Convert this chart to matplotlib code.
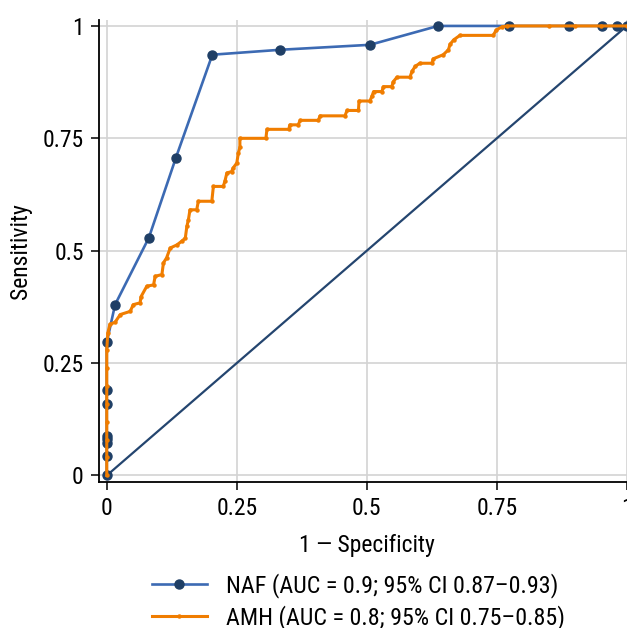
import matplotlib

matplotlib.use("Agg")
import matplotlib.pyplot as plt

plt.rcParams["font.family"] = ["Roboto Condensed", "DejaVu Sans"]

# ROC points
naf_fpr = [0, 0, 0, 0, 0, 0, 0, 0, 0.016, 0.081, 0.133, 0.203, 0.334, 0.506,
           0.637, 0.774, 0.889, 0.953, 0.982, 1.0]
naf_tpr = [0, 0.043, 0.073, 0.081, 0.088, 0.160, 0.190, 0.296, 0.38, 0.529,
           0.707, 0.936, 0.947, 0.958, 1.0, 1.0, 1.0, 1.0, 1.0, 1.0]

amh_fpr = [0, 0, 0, 0, 0, 0, 0, 0, 0.002, 0.006, 0.016, 0.026, 0.045, 0.051,
           0.064, 0.066, 0.077, 0.09, 0.093, 0.106, 0.109, 0.115, 0.122, 0.135,
           0.144, 0.151, 0.154, 0.157, 0.16, 0.173, 0.176, 0.202, 0.205, 0.224,
           0.227, 0.231, 0.24, 0.243, 0.25, 0.253, 0.256, 0.256, 0.306, 0.308,
           0.35, 0.352, 0.368, 0.372, 0.407, 0.41, 0.458, 0.462, 0.484, 0.485,
           0.506, 0.51, 0.513, 0.529, 0.532, 0.548, 0.551, 0.558, 0.583, 0.587,
           0.593, 0.602, 0.625, 0.628, 0.647, 0.657, 0.66, 0.667, 0.679, 0.743,
           0.749, 0.76, 0.77, 0.85, 0.9, 0.95, 1.0]
amh_tpr = [0, 0.04, 0.08, 0.12, 0.16, 0.2, 0.24, 0.28, 0.317, 0.336, 0.341,
           0.358, 0.365, 0.38, 0.384, 0.398, 0.421, 0.424, 0.443, 0.447, 0.473,
           0.484, 0.506, 0.513, 0.521, 0.528, 0.554, 0.569, 0.591, 0.591, 0.61,
           0.61, 0.643, 0.643, 0.654, 0.673, 0.676, 0.684, 0.695, 0.717, 0.73,
           0.75, 0.75, 0.77, 0.77, 0.78, 0.78, 0.79, 0.79, 0.80, 0.80, 0.812,
           0.812, 0.833, 0.833, 0.844, 0.854, 0.854, 0.865, 0.865, 0.876, 0.886,
           0.886, 0.899, 0.91, 0.917, 0.917, 0.927, 0.936, 0.947, 0.959, 0.969,
           0.979, 0.979, 0.991, 0.998, 1.0, 1.0, 1.0, 1.0, 1.0]

ticks = [0, 0.25, 0.5, 0.75, 1]
tick_labels = ["0", "0.25", "0.5", "0.75", "1"]

fig = plt.figure(figsize=(6.27, 6.28), dpi=100)
ax = fig.add_axes([0.158, 0.2325, 0.854, 0.7355])

ax.plot([0, 1], [0, 1], color="#24456f", lw=1.6, zorder=2)
ax.plot(naf_fpr, naf_tpr, color="#3c6ab3", lw=1.9, marker="o", ms=6.5,
        mfc="#1f3f66", mec="#1f3f66", zorder=3,
        label="NAF (AUC = 0.9; 95% CI 0.87\u20130.93)")
ax.plot(amh_fpr, amh_tpr, color="#f07d00", lw=2.2, marker="o", ms=2.2,
        mfc="#f07d00", mec="#f07d00", zorder=4,
        label="AMH (AUC = 0.8; 95% CI 0.75\u20130.85)")

ax.set_xlim(-0.0148, 1.0148)
ax.set_ylim(-0.0145, 1.013)
ax.set_xticks(ticks)
ax.set_xticklabels(tick_labels)
ax.set_yticks(ticks)
ax.set_yticklabels(tick_labels)
ax.tick_params(labelsize=17, length=6, width=1.1, pad=5)
ax.grid(color="#d3d3d3", lw=1.2)
ax.set_axisbelow(True)
for side in ("top", "right"):
    ax.spines[side].set_visible(False)
for side in ("left", "bottom"):
    ax.spines[side].set_linewidth(1.3)

ax.set_xlabel("1 \u2014 Specificity", fontsize=17, labelpad=10)
ax.set_ylabel("Sensitivity", fontsize=17, labelpad=8)

fig.legend(loc="upper left", bbox_to_anchor=(0.2265, 0.103), frameon=False,
           fontsize=17.3, handlelength=2.3, handletextpad=0.8, labelspacing=0.3,
           borderaxespad=0)

fig.savefig("out.png", dpi=100)
